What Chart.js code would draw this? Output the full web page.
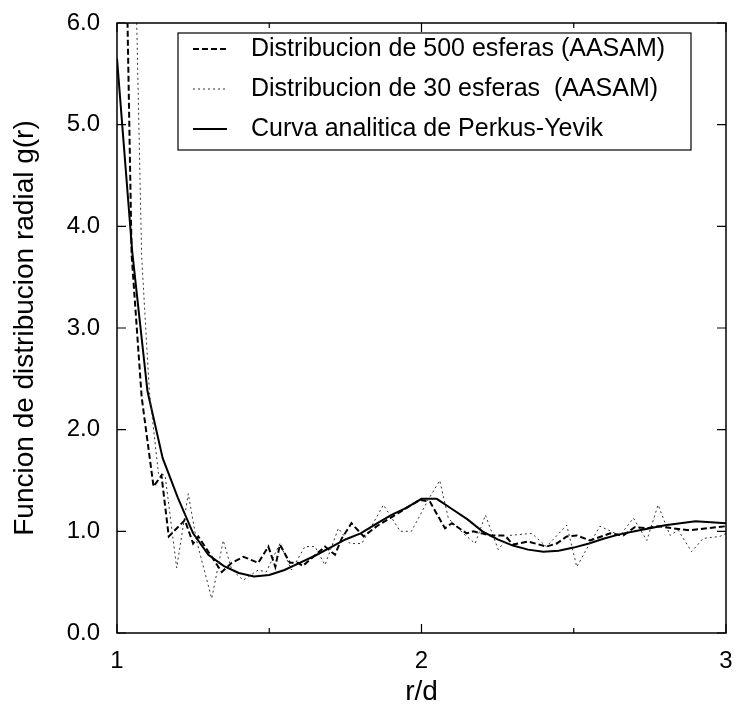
<!DOCTYPE html>
<html>
<head>
<meta charset="utf-8">
<script src="https://cdn.jsdelivr.net/npm/chart.js@4/dist/chart.umd.min.js"></script>
<style>
  body { margin: 0; background: #fff; }
  canvas { display: block; }
</style>
</head>
<body>
<canvas id="myChart" width="736" height="709"></canvas>
<script>
// series labels
var labels = [
    'Distribucion de 500 esferas (AASAM)',
    'Distribucion de 30 esferas  (AASAM)',
    'Curva analitica de Perkus-Yevik'
];

// 500 spheres (dashed)
var r500 = [1.034, 1.048, 1.081, 1.12, 1.146, 1.17, 1.223, 1.25, 1.267, 1.344, 1.377, 1.415, 1.464, 1.497, 1.52,
    1.535, 1.568, 1.595, 1.61, 1.645, 1.683, 1.716, 1.738, 1.77, 1.81, 1.853, 1.897, 1.951, 1.995, 2.028,
    2.077, 2.10, 2.148, 2.17, 2.225, 2.274, 2.30, 2.35, 2.41, 2.444, 2.477, 2.51, 2.553, 2.62, 2.663,
    2.70, 2.74, 2.777, 2.827, 2.88, 2.937, 3.0];
var g500 = [6.1, 3.72, 2.32, 1.44, 1.55, 0.95, 1.11, 0.88, 0.95, 0.60, 0.69, 0.75, 0.69, 0.85, 0.65,
    0.87, 0.69, 0.69, 0.66, 0.75, 0.85, 0.77, 0.93, 1.08, 0.95, 1.05, 1.13, 1.23, 1.31, 1.29,
    1.03, 1.08, 0.98, 1.00, 0.96, 0.96, 0.87, 0.90, 0.85, 0.88, 0.95, 0.96, 0.91, 0.98, 0.96,
    1.04, 1.03, 1.05, 1.03, 1.01, 1.03, 1.05];

// 30 spheres (dotted)
var r30 = [1.064, 1.081, 1.106, 1.136, 1.158, 1.196, 1.234, 1.261, 1.311, 1.349, 1.377, 1.415, 1.464, 1.49,
    1.535, 1.573, 1.617, 1.65, 1.683, 1.727, 1.765, 1.804, 1.875, 1.93, 1.967, 2.022, 2.06, 2.088,
    2.137, 2.176, 2.21, 2.252, 2.29, 2.362, 2.41, 2.477, 2.51, 2.543, 2.586, 2.652, 2.696, 2.74,
    2.777, 2.816, 2.843, 2.887, 2.925, 2.98, 3.0];
var g30 = [6.1, 3.70, 2.39, 1.57, 1.55, 0.64, 1.37, 0.91, 0.34, 0.91, 0.62, 0.52, 0.62, 0.60,
    0.88, 0.62, 0.85, 0.85, 0.67, 1.03, 0.88, 0.88, 1.26, 1.00, 1.00, 1.31, 1.50, 1.13,
    0.98, 0.88, 1.16, 0.82, 0.96, 0.98, 0.85, 1.06, 0.65, 0.83, 1.05, 0.96, 1.13, 0.91,
    1.26, 0.96, 1.01, 0.80, 0.93, 0.95, 0.98];

// Perkus-Yevik analytic curve (solid)
var rPY = [1.00, 1.05, 1.10, 1.15, 1.20, 1.25, 1.30, 1.35, 1.40, 1.45, 1.50, 1.55, 1.60, 1.65, 1.70,
    1.75, 1.80, 1.85, 1.90, 1.95, 2.00, 2.05, 2.10, 2.15, 2.20, 2.25, 2.30, 2.35, 2.40, 2.45,
    2.50, 2.55, 2.60, 2.65, 2.70, 2.75, 2.80, 2.85, 2.90, 2.95, 3.00];
var gPY = [5.65, 3.75, 2.38, 1.72, 1.33, 0.98, 0.77, 0.66, 0.59, 0.555, 0.57, 0.62, 0.69, 0.76, 0.84,
    0.92, 0.98, 1.07, 1.16, 1.23, 1.32, 1.32, 1.22, 1.12, 1.00, 0.92, 0.86, 0.82, 0.80, 0.81,
    0.84, 0.88, 0.93, 0.97, 1.00, 1.03, 1.06, 1.08, 1.10, 1.09, 1.08];

var xTicks = [1, 2, 3];
var xMinorTicks = [1.5, 2.5];
var yTicks = [0, 1, 2, 3, 4, 5, 6];

function pts(xs, ys) {
    return xs.map(function (x, i) { return { x: x, y: ys[i] }; });
}

var FONT = "'Liberation Sans', Arial, sans-serif";

// frame, inward ticks and boxed legend
var framePlugin = {
    id: 'framePlugin',
    afterDraw: function (chart) {
        var c = chart.ctx, a = chart.chartArea;
        var xs = chart.scales.x, ys = chart.scales.y;
        c.save();
        c.strokeStyle = '#000';
        c.lineWidth = 1.5;
        c.setLineDash([]);
        c.strokeRect(a.left, a.top, a.right - a.left, a.bottom - a.top);
        c.lineWidth = 1.2;
        c.beginPath();
        yTicks.forEach(function (v) {
            var p = ys.getPixelForValue(v);
            c.moveTo(a.left, p); c.lineTo(a.left + 9, p);
            c.moveTo(a.right, p); c.lineTo(a.right - 9, p);
        });
        xTicks.forEach(function (v) {
            var p = xs.getPixelForValue(v);
            c.moveTo(p, a.bottom); c.lineTo(p, a.bottom - 9);
            c.moveTo(p, a.top); c.lineTo(p, a.top + 9);
        });
        xMinorTicks.forEach(function (v) {
            var p = xs.getPixelForValue(v);
            c.moveTo(p, a.bottom); c.lineTo(p, a.bottom - 5);
            c.moveTo(p, a.top); c.lineTo(p, a.top + 5);
        });
        c.stroke();

        // legend box
        var bx = a.left + 61, by = a.top + 10, bw = 513, bh = 117;
        c.fillStyle = '#fff';
        c.fillRect(bx, by, bw, bh);
        c.lineWidth = 1.2;
        c.strokeRect(bx, by, bw, bh);
        c.font = '25px ' + FONT;
        c.textBaseline = 'middle';
        chart.data.datasets.forEach(function (ds, i) {
            var yy = by + 16 + i * 40;
            c.beginPath();
            c.strokeStyle = ds.borderColor;
            c.lineWidth = ds.borderWidth;
            c.setLineDash(ds.borderDash || []);
            c.moveTo(bx + 15, yy); c.lineTo(bx + 49, yy);
            c.stroke();
            c.setLineDash([]);
            c.fillStyle = '#000';
            c.fillText(ds.label, bx + 73, yy);
        });
        c.restore();
    }
};

var ctx = document.getElementById('myChart');

var myChart = new Chart(ctx, {
    type: 'line',
    data: {
        datasets: [{
            label: labels[0],
            data: pts(r500, g500),
            borderColor: '#000',
            borderWidth: 2,
            borderDash: [6, 3]
        }, {
            label: labels[1],
            data: pts(r30, g30),
            borderColor: '#333',
            borderWidth: 1,
            borderDash: [2, 3]
        }, {
            label: labels[2],
            data: pts(rPY, gPY),
            borderColor: '#000',
            borderWidth: 2
        }]
    },
    options: {
        responsive: false,
        animation: false,
        maintainAspectRatio: false,
        elements: { point: { radius: 0 }, line: { tension: 0 } },
        layout: { padding: { left: 0, right: 10, top: 23, bottom: 0 } },
        plugins: { legend: { display: false }, tooltip: { enabled: false } },
        scales: {
            x: {
                type: 'linear',
                min: 1, max: 3,
                grid: { display: false, drawTicks: false, tickLength: 0 },
                border: { display: false },
                afterFit: function (s) {
                    s.height = 76;
                    s.paddingLeft = 0; s.paddingRight = 0;
                },
                afterBuildTicks: function (s) { s.ticks = xTicks.map(function (v) { return { value: v }; }); },
                ticks: { color: '#000', padding: 14, maxRotation: 0, font: { family: FONT, size: 24 } },
                title: { display: true, text: 'r/d', color: '#000', padding: { top: 0, bottom: 0 }, font: { family: FONT, size: 28 } }
            },
            y: {
                min: 0, max: 6,
                grid: { display: false, drawTicks: false, tickLength: 0 },
                border: { display: false },
                afterFit: function (s) {
                    s.width = 117;
                    s.paddingTop = 0; s.paddingBottom = 0;
                },
                afterBuildTicks: function (s) { s.ticks = yTicks.map(function (v) { return { value: v }; }); },
                ticks: {
                    color: '#000', padding: 17, font: { family: FONT, size: 24 },
                    callback: function (v) { return v.toFixed(1); }
                },
                title: { display: true, text: 'Funcion de distribucion radial g(r)', color: '#000', padding: { top: 8, bottom: 0 }, font: { family: FONT, size: 28 } }
            }
        }
    },
    plugins: [framePlugin]
});
</script>
</body>
</html>
